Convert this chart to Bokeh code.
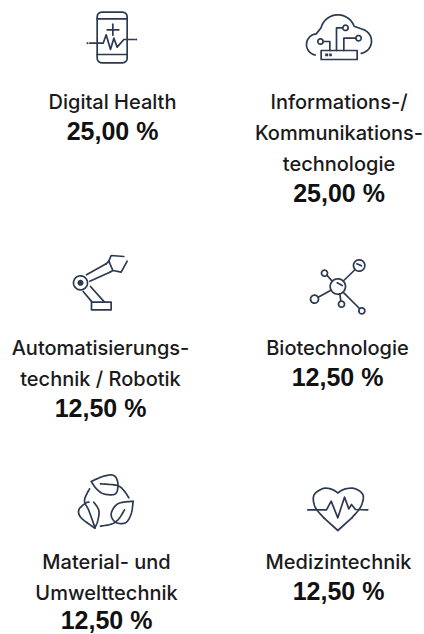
import numpy as np
from bokeh.embed import file_html
from bokeh.resources import INLINE
from bokeh.plotting import figure
from bokeh.core.properties import value
from bokeh.models import Range1d

categories = [
    ["Digital Health"],
    ["Informations-/", "Kommunikations-", "technologie"],
    ["Automatisierungs-", "technik / Robotik"],
    ["Biotechnologie"],
    ["Material- und", "Umwelttechnik"],
    ["Medizintechnik"],
]
shares = [25.00, 25.00, 12.50, 12.50, 12.50, 12.50]

INK = "#2b3a52"
FONT = "Inter Medium"

p = figure(width=424, height=634, output_backend="svg", toolbar_location=None,
           x_range=Range1d(0, 424), y_range=Range1d(634, 0), min_border=0)
p.axis.visible = False
p.grid.visible = False
p.outline_line_color = None
p.background_fill_color = "#ffffff"

def z(ox, oy, pts):
    a = np.array(pts, dtype=float)
    return ox + a[:, 0] / 3, oy + a[:, 1] / 3

def smooth(pts, closed=False, n=10):
    P = np.array(pts, dtype=float)
    if closed:
        P = np.vstack([P[-1], P, P[0], P[1]])
    else:
        P = np.vstack([P[0], P, P[-1]])
    out = []
    for i in range(1, len(P) - 2):
        for t in np.linspace(0, 1, n, endpoint=False):
            out.append(0.5 * ((2 * P[i]) + (P[i + 1] - P[i - 1]) * t
                              + (2 * P[i - 1] - 5 * P[i] + 4 * P[i + 1] - P[i + 2]) * t ** 2
                              + (3 * P[i] - P[i - 1] - 3 * P[i + 1] + P[i + 2]) * t ** 3))
    out.append(P[-2])
    return np.array(out)

def arc(cx, cy, r, a0=0, a1=360, n=40):
    t = np.radians(np.linspace(a0, a1, n))
    return np.column_stack([cx + r * np.cos(t), cy + r * np.sin(t)])

def rrect(x0, y0, x1, y1, r):
    return np.vstack([arc(x1 - r, y0 + r, r, -90, 0, 8), arc(x1 - r, y1 - r, r, 0, 90, 8),
                      arc(x0 + r, y1 - r, r, 90, 180, 8), arc(x0 + r, y0 + r, r, 180, 270, 8),
                      [[x1 - r, y0]]])

def draw(ox, oy, paths, width=1.7):
    xs, ys = [], []
    for path in paths:
        x, y = z(ox, oy, path)
        xs.append(list(x))
        ys.append(list(y))
    p.multi_line(xs, ys, line_color=INK, line_width=width, line_cap="round", line_join="round")

def fill(ox, oy, paths):
    xs, ys = [], []
    for path in paths:
        x, y = z(ox, oy, path)
        xs.append(list(x))
        ys.append(list(y))
    p.patches(xs, ys, fill_color=INK, line_color=None)

# phone with pulse
draw(60, 0, [rrect(110, 35, 200, 187, 14),
             [[110, 55], [200, 55]], [[110, 162], [200, 162]],
             [[140, 88], [175, 88]], [[157, 71], [157, 104]],
             [[88, 128], [128, 128], [137, 103], [150, 147], [160, 113], [170, 140], [190, 117], [222, 117]]])
fill(60, 0, [arc(81, 128, 3), arc(227, 117, 3)])

# cloud with circuit
draw(280, 0, [np.vstack([arc(110, 132, 32, 100, 265, 20), arc(172, 95, 52, 195, 340, 30),
                         arc(236, 122, 37, -75, 80, 20)]),
              [[122, 150], [230, 150], [230, 177], [122, 177], [122, 150]],
              arc(120, 123, 8), [[128, 123], [148, 123], [148, 150]],
              [[168, 150], [168, 82], [187, 82]], arc(195, 82, 8),
              [[190, 150], [190, 113], [226, 113]], arc(234, 113, 8)])
fill(280, 0, [[[134, 159], [143, 159], [143, 167], [134, 167]],
              [[146, 159], [154, 159], [154, 167], [146, 167]]])

# robot arm
draw(60, 240, [arc(60, 127, 21),
               [[78, 103], [137, 70]], [[88, 122], [148, 95]],
               [[137, 70], [145, 62], [157, 90], [148, 95]],
               [[145, 62], [152, 45], [190, 48]], [[157, 90], [182, 95], [200, 62]],
               [[93, 185], [152, 185], [152, 208], [93, 208], [93, 185]],
               [[68, 153], [95, 185]], [[90, 138], [132, 185]]])
fill(60, 240, [arc(60, 127, 9)])

# molecule
draw(280, 240, [arc(172, 138, 23), arc(236, 75, 17), arc(132, 98, 9), arc(102, 176, 12),
                arc(183, 191, 9), arc(244, 211, 9),
                [[190, 120], [224, 87]], [[140, 105], [155, 122]], [[113, 170], [150, 150]],
                [[178, 160], [181, 182]], [[190, 157], [237, 204]],
                [[170, 127], [185, 135]], [[229, 70], [243, 76]]])

# leaves
draw(60, 460, [smooth([[92, 63], [130, 47], [160, 45], [172, 68], [165, 100], [130, 100], [108, 85], [92, 63]]),
               smooth([[120, 70], [170, 75], [190, 90], [205, 112]]),
               smooth([[103, 203], [62, 172], [55, 148], [75, 128], [85, 125]]),
               smooth([[100, 125], [115, 150], [112, 180], [103, 203]]),
               smooth([[87, 85], [72, 120], [85, 150], [103, 200]]),
               smooth([[218, 122], [172, 130], [152, 160], [165, 185], [195, 187], [212, 160], [218, 122]]),
               smooth([[120, 197], [155, 190], [175, 175], [192, 148]])])

# heart
draw(280, 460, [smooth([[172, 97], [150, 85], [125, 85], [100, 105], [104, 140], [130, 172]]),
                smooth([[172, 97], [195, 85], [225, 85], [248, 105], [240, 140], [214, 172]]),
                [[130, 172], [172, 210], [214, 172]],
                [[82, 148], [138, 148], [152, 122], [172, 172], [192, 110], [205, 145], [213, 132], [225, 147], [262, 148]]])

centers = [112, 338.5, 100, 337, 106, 338]
tops = [101, 101, 347, 347, 561, 561]
LH = 31
for cat, share, cx, top in zip(categories, shares, centers, tops):
    for i, line in enumerate(cat):
        p.text([cx], [top + i * LH], text=[line], text_font=value(FONT), text_font_size="20px",
               text_color="#1a1a1a", text_align="center", text_baseline="middle")
    label = f"{share:.2f}".replace(".", ",") + " %"
    y = min(top + (len(cat) - 1) * LH + 29.5, 619.5)
    p.text([cx], [y], text=[label], text_font=value("Liberation Sans"),
           text_font_size="25px", text_font_style="bold", text_color="#111111",
           text_align="center", text_baseline="middle")

open("out.html", "w").write(file_html(p, INLINE))
